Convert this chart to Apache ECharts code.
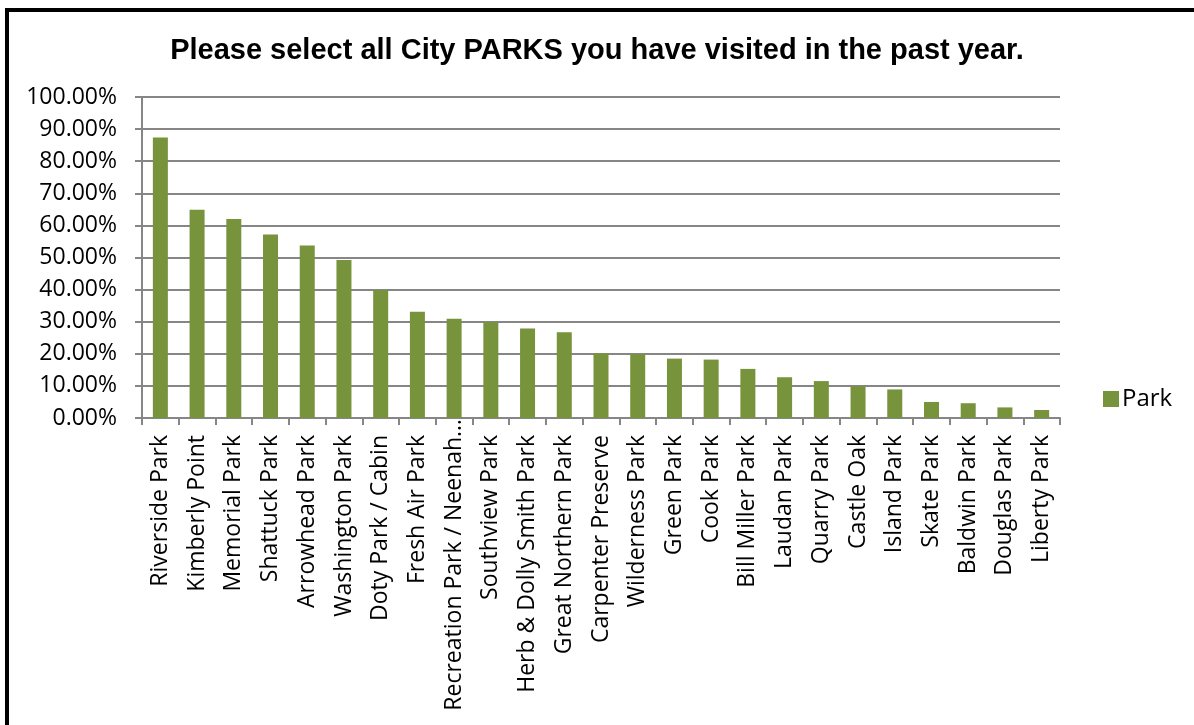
<!DOCTYPE html>
<html>
<head>
<meta charset="utf-8">
<script src="https://cdn.jsdelivr.net/npm/echarts@6/dist/echarts.min.js"></script>
<style>
html,body{margin:0;padding:0;background:#fff;overflow:hidden;}
#frame{position:absolute;left:5px;top:8px;width:1300px;height:740px;border-left:4px solid #000;border-top:4px solid #000;}
#chart{position:absolute;left:0;top:0;width:1194px;height:725px;}
</style>
</head>
<body>
<div id="frame"></div>
<div id="chart"></div>
<script>
const titleText = 'Please select all City PARKS you have visited in the past year.';
const seriesName = 'Park';
const categories = ['Riverside Park','Kimberly Point','Memorial Park','Shattuck Park','Arrowhead Park','Washington Park','Doty Park / Cabin','Fresh Air Park','Recreation Park / Neenah…','Southview Park','Herb & Dolly Smith Park','Great Northern Park','Carpenter Preserve','Wilderness Park','Green Park','Cook Park','Bill Miller Park','Laudan Park','Quarry Park','Castle Oak','Island Park','Skate Park','Baldwin Park','Douglas Park','Liberty Park'];
const values = [0.874,0.649,0.620,0.572,0.537,0.492,0.399,0.331,0.309,0.299,0.279,0.267,0.202,0.199,0.185,0.182,0.153,0.127,0.115,0.099,0.089,0.050,0.046,0.033,0.025];

const chart = echarts.init(document.getElementById('chart'));
const labelFont = '"Open Sans", sans-serif';
const longLabel = 'Recreation Park / Neenah…';
chart.setOption({
  animation:false,
  title:{text:titleText,left:'center',top:31,textStyle:{fontFamily:'"Liberation Sans", Arial, sans-serif',fontWeight:'bold',fontSize:29,color:'#000'}},
  legend:{data:[seriesName],left:1103,top:387,padding:0,itemWidth:16,itemHeight:16,icon:'rect',itemGap:6,textStyle:{fontFamily:labelFont,fontSize:24,color:'#000',padding:[0,0,0,-2]}},
  grid:{left:142,top:97,right:134,bottom:307,containLabel:false,outerBoundsMode:'none'},
  xAxis:{type:'category',data:categories.map(c => c === longLabel ? {value:c, textStyle:{padding:[0,-16,0,0]}} : c),boundaryGap:true,
    axisLine:{lineStyle:{color:'#868686',width:2}},
    axisTick:{show:true,interval:0,length:7,lineStyle:{color:'#868686',width:2}},
    axisLabel:{interval:0,rotate:90,margin:17,fontFamily:labelFont,fontSize:23,color:'#000'}},
  yAxis:{type:'value',min:0,max:1,interval:0.1,
    axisLine:{show:true,lineStyle:{color:'#868686',width:2}},
    axisTick:{show:true,length:7,lineStyle:{color:'#868686',width:2}},
    splitLine:{lineStyle:{color:'#868686',width:2}},
    axisLabel:{margin:25,fontFamily:labelFont,fontSize:23,color:'#000',formatter:v=>(v*100).toFixed(2)+'%'}},
  series:[{name:seriesName,type:'bar',data:values,barWidth:15,itemStyle:{color:'#77933C'}}]
});
</script>
</body>
</html>
